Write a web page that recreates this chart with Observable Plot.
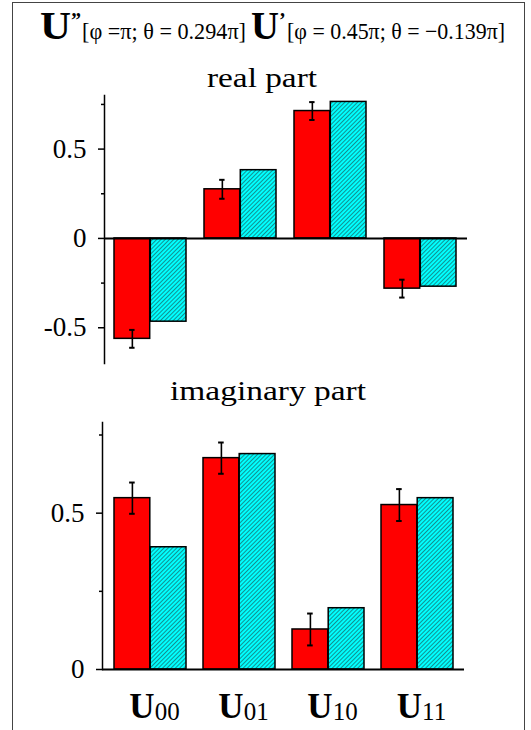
<!DOCTYPE html>
<html>
<head>
<meta charset="utf-8">
<script src="https://cdn.jsdelivr.net/npm/d3@7"></script>
<script src="https://cdn.jsdelivr.net/npm/@observablehq/plot@0.6"></script>
<style>
  html, body { margin: 0; padding: 0; background: #fff; }
  body { width: 531px; height: 730px; position: relative; overflow: hidden; font-family: "Liberation Serif", "Times New Roman", serif; }
  #frame { position: absolute; left: 12px; top: 2px; width: 513px; height: 760px; border: 1.5px solid #444; box-sizing: border-box; }
  .panel { position: absolute; left: 0; }
  #overlay { position: absolute; left: 0; top: 0; pointer-events: none; font-family: "Liberation Serif", "Times New Roman", serif; }
  svg text { font-family: "Liberation Serif", "Times New Roman", serif; }
</style>
</head>
<body>
<div id="frame"></div>
<svg width="0" height="0" style="position:absolute">
  <defs>
    <pattern id="hatch" width="3" height="3" patternUnits="userSpaceOnUse" patternTransform="rotate(45)">
      <rect width="3" height="3" fill="#00ffff"></rect>
      <line x1="0.5" y1="0" x2="0.5" y2="3" stroke="#138585" stroke-width="0.9"></line>
    </pattern>
  </defs>
</svg>
<div id="top" class="panel" style="top:90px"></div>
<div id="bottom" class="panel" style="top:410px"></div>
<svg id="overlay" width="531" height="730">
  <text x="40" y="39" font-size="40" font-weight="bold" textLength="31" lengthAdjust="spacingAndGlyphs">U</text>
  <text x="71" y="27" font-size="20" font-weight="bold">”</text>
  <text x="82" y="39" font-size="23" textLength="164" lengthAdjust="spacingAndGlyphs">[φ =π; θ = 0.294π]</text>
  <text x="251" y="39" font-size="40" font-weight="bold" textLength="28" lengthAdjust="spacingAndGlyphs">U</text>
  <text x="279" y="27" font-size="20" font-weight="bold">’</text>
  <text x="287" y="39" font-size="23" textLength="218" lengthAdjust="spacingAndGlyphs">[φ = 0.45π; θ = −0.139π]</text>
  <text x="262" y="87" font-size="28" text-anchor="middle" textLength="110" lengthAdjust="spacingAndGlyphs">real part</text>
  <text x="268" y="400" font-size="28" text-anchor="middle" textLength="196" lengthAdjust="spacingAndGlyphs">imaginary part</text>
</svg>
<script>
// ---- data ----
const categories = ["U00", "U01", "U10", "U11"];
const realExperiment = [-0.562, 0.275, 0.713, -0.281];
const realError = [0.05, 0.053, 0.05, 0.05];
const realTheory = [-0.466, 0.382, 0.764, -0.27];
const imagExperiment = [0.548, 0.676, 0.128, 0.526];
const imagError = [0.05, 0.05, 0.051, 0.051];
const imagTheory = [0.391, 0.689, 0.196, 0.548];
const realTicks = [-0.5, 0, 0.5];
const realMinorTicks = [-0.25, 0.25, 0.75];
const imagTicks = [0, 0.5];
const imagMinorTicks = [0.25, 0.75];
const realDomain = [-0.70, 0.80];
const imagDomain = [0, 0.79];

const font = '"Liberation Serif", "Times New Roman", serif';

function panel({exp, th, err, domain, majors, minors, height, marginTop, marginBottom, marginLeft, marginRight, labels}) {
  const rows = categories.map((c, i) => ({cat: c, exp: exp[i], th: th[i], err: err[i]}));
  const width = 531;
  const inner = 0.195, outer = 0.11;
  const step = (width - marginLeft - marginRight) / (categories.length - inner + 2 * outer);
  const bw = step * (1 - inner);
  const marks = [
    Plot.barY(rows, {x: "cat", y: "exp", fill: "#ff0000", stroke: "black", strokeWidth: 1.5, insetRight: bw / 2}),
    Plot.barY(rows, {x: "cat", y: "th", fill: "url(#hatch)", stroke: "black", strokeWidth: 1.5, insetLeft: bw / 2}),
    Plot.ruleY([0], {stroke: "black", strokeWidth: 2}),
    Plot.frame({anchor: "left", stroke: "black", strokeWidth: 1.5}),
    Plot.axisY({ticks: majors, tickSize: 6, tickPadding: 12, fontSize: 27, fontFamily: font, tickFormat: d => String(d), strokeWidth: 1.5}),
    Plot.axisY({ticks: minors, tickSize: 3, tickFormat: () => "", strokeWidth: 1.5}),
    Plot.ruleX(rows, {x: "cat", y1: d => d.exp - d.err, y2: d => d.exp + d.err, dx: -bw / 4, stroke: "black", strokeWidth: 1.6}),
    Plot.tickY(rows, {x: "cat", y: d => d.exp + d.err, insetLeft: bw / 4 - 3, insetRight: 3 * bw / 4 - 3, stroke: "black", strokeWidth: 2}),
    Plot.tickY(rows, {x: "cat", y: d => d.exp - d.err, insetLeft: bw / 4 - 3, insetRight: 3 * bw / 4 - 3, stroke: "black", strokeWidth: 2})
  ];
  if (labels) {
    marks.push(Plot.text(rows, {x: "cat", text: "cat", frameAnchor: "bottom", dy: 48, dx: 4, lineAnchor: "bottom", fontSize: 34, fontFamily: font}));
  }
  const svg = Plot.plot({
    width, height, marginTop, marginBottom, marginLeft, marginRight,
    style: {fontFamily: font, color: "black", background: "transparent", overflow: "visible"},
    x: {domain: categories, paddingInner: inner, paddingOuter: outer, axis: null},
    y: {domain},
    marks
  });
  if (labels) {
    d3.select(svg).selectAll('g[aria-label="text"] text').each(function () {
      const t = this.textContent;
      const sel = d3.select(this);
      sel.text(null);
      sel.append("tspan").attr("font-weight", "bold").attr("font-size", 35).text(t.slice(0, 1));
      sel.append("tspan").attr("font-weight", "normal").attr("font-size", 25).attr("dy", 2).text(t.slice(1));
    });
  }
  return svg;
}

document.getElementById("top").append(panel({
  exp: realExperiment, th: realTheory, err: realError, domain: realDomain,
  majors: realTicks, minors: realMinorTicks,
  height: 290, marginTop: 5, marginBottom: 17, marginLeft: 104, marginRight: 64, labels: false
}));
document.getElementById("bottom").append(panel({
  exp: imagExperiment, th: imagTheory, err: imagError, domain: imagDomain,
  majors: imagTicks, minors: imagMinorTicks,
  height: 320, marginTop: 12, marginBottom: 61, marginLeft: 102, marginRight: 67, labels: true
}));
</script>
</body>
</html>
